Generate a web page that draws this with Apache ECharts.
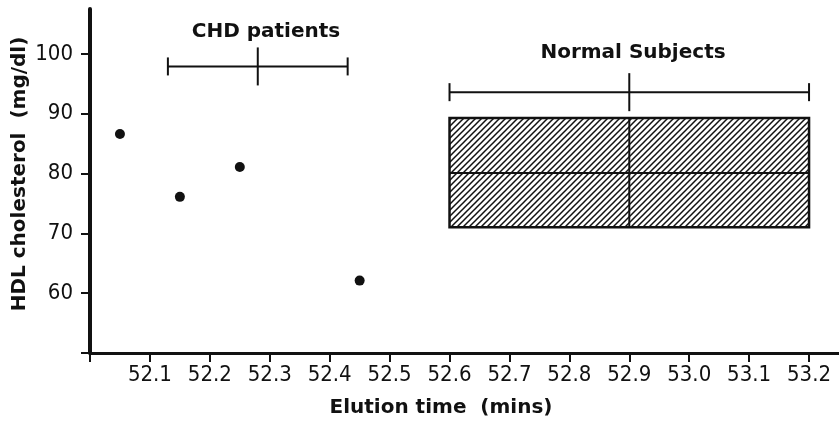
<!DOCTYPE html>
<html>
<head>
<meta charset="utf-8">
<script src="https://cdn.jsdelivr.net/npm/echarts@6/dist/echarts.min.js"></script>
<style>
  html, body { margin: 0; padding: 0; background: #fff; }
  #chart { width: 839px; height: 423px; }
</style>
</head>
<body>
<div id="chart"></div>
<script>
// CHD patients: individual points
var chdTimes = [52.05, 52.15, 52.25, 52.45]
var chdHdl = [86.6, 76.1, 81.1, 62.1]
// range bars: [low, mean, high, hdl level]
var chdRange = [52.13, 52.28, 52.43, 97.9]
var normalRange = [52.6, 52.9, 53.2, 93.6]
// normal subjects box: elution low/mean/high, HDL low/mean/high
var normalTimes = [52.6, 52.9, 53.2]
var normalHdl = [71.0, 80.1, 89.3]

var groupNames = ['CHD patients', 'Normal Subjects']

// 斜线填充
function hatch() {
    var c = document.createElement('canvas')
    c.width = 6
    c.height = 6
    var ctx = c.getContext('2d')
    ctx.fillStyle = '#fff'
    ctx.fillRect(0, 0, 6, 6)
    ctx.strokeStyle = '#111'
    ctx.lineWidth = 1.5
    ctx.beginPath()
    ctx.moveTo(-1, 7); ctx.lineTo(7, -1)
    ctx.moveTo(-4, 4); ctx.lineTo(4, -4)
    ctx.moveTo(2, 10); ctx.lineTo(10, 2)
    ctx.stroke()
    return c
}

var labelFont = "'DejaVu Sans Condensed', 'Liberation Sans Narrow', Roboto, sans-serif"
var boldFont = "'DejaVu Sans', sans-serif"
var chart = echarts.init(document.getElementById('chart'))

chart.setOption({
    animation: false,
    title: [
        { text: groupNames[0], left: 261, top: 17, textAlign: 'center',
          textStyle: { fontFamily: boldFont, fontWeight: 'bold', fontSize: 20, color: '#111' } },
        { text: groupNames[1], left: 628, top: 38, textAlign: 'center',
          textStyle: { fontFamily: boldFont, fontWeight: 'bold', fontSize: 20, color: '#111' } }
    ],
    grid: { left: 90, right: 0, top: 9, bottom: 70, containLabel: false, outerBoundsMode: 'none' },
    xAxis: {
        type: 'value',
        min: 52.0,
        max: 53.25,
        interval: 0.1,
        name: 'Elution time  (mins)',
        nameLocation: 'middle',
        nameGap: 45,
        nameMoveOverlap: false,
        nameTextStyle: { fontFamily: boldFont, fontWeight: 'bold', fontSize: 20, color: '#111', padding: [0, 47, 0, 0] },
        splitLine: { show: false },
        axisLine: { lineStyle: { color: '#111', width: 3 } },
        axisTick: { length: 9, lineStyle: { color: '#111', width: 2 } },
        axisLabel: {
            showMaxLabel: false,
            margin: 11,
            fontFamily: labelFont,
            fontSize: 22,
            color: '#111',
            formatter: function (v) {
                if (v < 52.05) return ''
                return v.toFixed(1)
            }
        }
    },
    yAxis: {
        type: 'value',
        min: 50,
        max: 107.5,
        interval: 10,
        name: 'HDL cholesterol  (mg/dl)',
        nameLocation: 'middle',
        nameGap: 60,
        nameMoveOverlap: false,
        nameTextStyle: { fontFamily: boldFont, fontWeight: 'bold', fontSize: 20, color: '#111', padding: [0, 0, 0, 14] },
        splitLine: { show: false },
        axisLine: { lineStyle: { color: '#111', width: 4 } },
        axisTick: { length: 9, lineStyle: { color: '#111', width: 2 } },
        axisLabel: {
            showMaxLabel: false,
            margin: 17,
            fontFamily: labelFont,
            fontSize: 22,
            color: '#111',
            formatter: function (v) {
                return v === 50 ? '' : v
            }
        }
    },
    series: [
        {
            type: 'scatter',
            symbolSize: 10,
            itemStyle: { color: '#111', opacity: 1 },
            data: chdTimes.map(function (t, i) { return [t, chdHdl[i]] })
        },
        {
            // 范围线
            type: 'custom',
            data: [chdRange, normalRange],
            renderItem: function (params, api) {
                var y = api.value(3)
                var p0 = api.coord([api.value(0), y])
                var pm = api.coord([api.value(1), y])
                var p1 = api.coord([api.value(2), y])
                var st = { stroke: '#111', lineWidth: 2 }
                return {
                    type: 'group',
                    children: [
                        { type: 'line', shape: { x1: p0[0], y1: p0[1], x2: p1[0], y2: p1[1] }, style: st },
                        { type: 'line', shape: { x1: p0[0], y1: p0[1] - 9, x2: p0[0], y2: p0[1] + 9 }, style: st },
                        { type: 'line', shape: { x1: p1[0], y1: p1[1] - 9, x2: p1[0], y2: p1[1] + 9 }, style: st },
                        { type: 'line', shape: { x1: pm[0], y1: pm[1] - 19, x2: pm[0], y2: pm[1] + 19 }, style: st }
                    ]
                }
            }
        },
        {
            type: 'custom',
            data: [normalTimes.concat(normalHdl)],
            renderItem: function (params, api) {
                var tl = api.coord([api.value(0), api.value(5)])
                var br = api.coord([api.value(2), api.value(3)])
                var mid = api.coord([api.value(1), api.value(4)])
                var st = { stroke: '#111', lineWidth: 2 }
                return {
                    type: 'group',
                    children: [
                        { type: 'rect', shape: { x: tl[0], y: tl[1], width: br[0] - tl[0], height: br[1] - tl[1] },
                          style: { fill: { image: hatch(), repeat: 'repeat' }, stroke: '#111', lineWidth: 2.5 } },
                        { type: 'line', shape: { x1: tl[0], y1: mid[1], x2: br[0], y2: mid[1] }, style: st },
                        { type: 'line', shape: { x1: mid[0], y1: tl[1], x2: mid[0], y2: br[1] }, style: st }
                    ]
                }
            }
        }
    ]
})
</script>
</body>
</html>
